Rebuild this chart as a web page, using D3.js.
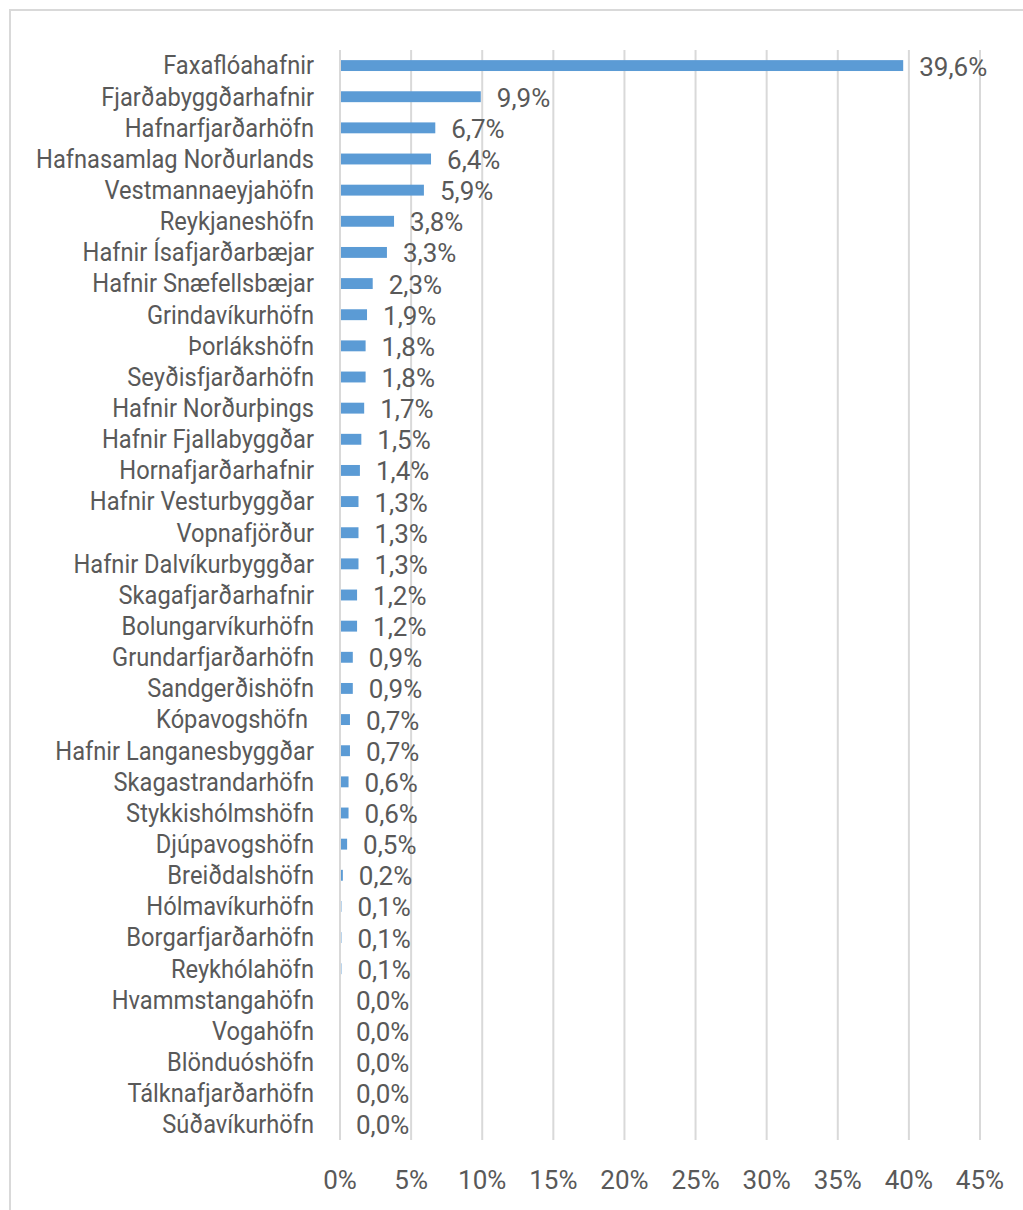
<!DOCTYPE html>
<html>
<head>
<meta charset="utf-8">
<script src="https://d3js.org/d3.v7.min.js"></script>
<style>
  body { margin: 0; background: #fff; }
  text { font-family: "Roboto", "Open Sans", sans-serif; fill: #595959; }
</style>
</head>
<body>
<div id="chart"></div>
<script>
// harbours, ordered as in the chart (top to bottom)
var harbours = ["Faxaflóahafnir", "Fjarðabyggðarhafnir", "Hafnarfjarðarhöfn", "Hafnasamlag Norðurlands",
  "Vestmannaeyjahöfn", "Reykjaneshöfn", "Hafnir Ísafjarðarbæjar", "Hafnir Snæfellsbæjar",
  "Grindavíkurhöfn", "Þorlákshöfn", "Seyðisfjarðarhöfn", "Hafnir Norðurþings",
  "Hafnir Fjallabyggðar", "Hornafjarðarhafnir", "Hafnir Vesturbyggðar", "Vopnafjörður",
  "Hafnir Dalvíkurbyggðar", "Skagafjarðarhafnir", "Bolungarvíkurhöfn", "Grundarfjarðarhöfn",
  "Sandgerðishöfn", "Kópavogshöfn ", "Hafnir Langanesbyggðar", "Skagastrandarhöfn",
  "Stykkishólmshöfn", "Djúpavogshöfn", "Breiðdalshöfn", "Hólmavíkurhöfn",
  "Borgarfjarðarhöfn", "Reykhólahöfn", "Hvammstangahöfn", "Vogahöfn",
  "Blönduóshöfn", "Tálknafjarðarhöfn", "Súðavíkurhöfn"];

// share (%)
var shares = [39.6, 9.9, 6.7, 6.4, 5.9, 3.8, 3.3, 2.3, 1.9, 1.8, 1.8, 1.7, 1.5, 1.4, 1.3, 1.3,
  1.3, 1.2, 1.2, 0.9, 0.9, 0.7, 0.7, 0.6, 0.6, 0.5, 0.2, 0.1, 0.1, 0.1, 0.0, 0.0, 0.0, 0.0, 0.0];

var ticks = [0, 5, 10, 15, 20, 25, 30, 35, 40, 45];

var data = harbours.map(function(h, i) { return {name: h, value: shares[i]}; });

var W = 1023, H = 1210;
var svg = d3.select("#chart").append("svg")
  .attr("width", W)
  .attr("height", H);

// chart area border
svg.append("rect")
  .attr("x", 10).attr("y", 10)
  .attr("width", W + 20).attr("height", H + 20)
  .attr("fill", "none")
  .attr("stroke", "#d9d9d9")
  .attr("stroke-width", 2);

var x = d3.scaleLinear().domain([0, 45]).range([340, 980]);
var y = d3.scaleBand()
  .domain(harbours)
  .range([50, 1140])
  .paddingInner(0.65)
  .paddingOuter(0.325);

// gridlines
svg.append("g")
  .selectAll("line")
  .data(ticks)
  .enter().append("line")
    .attr("x1", function(d) { return x(d); })
    .attr("x2", function(d) { return x(d); })
    .attr("y1", 50)
    .attr("y2", 1140)
    .attr("stroke", "#d9d9d9")
    .attr("stroke-width", 2);

// x tick labels
svg.append("g")
  .selectAll("text")
  .data(ticks)
  .enter().append("text")
    .attr("x", function(d) { return x(d); })
    .attr("y", 1180)
    .attr("text-anchor", "middle")
    .attr("dominant-baseline", "central")
    .style("font-size", "26px")
    .text(function(d) { return d + "%"; });

// bars
svg.append("g")
  .selectAll("rect")
  .data(data)
  .enter().append("rect")
    .attr("x", x(0) + 1)
    .attr("y", function(d) { return y(d.name); })
    .attr("width", function(d) { return Math.max(0, x(d.value) - x(0) - 1); })
    .attr("height", y.bandwidth())
    .attr("fill", "#5b9bd5");

// category labels (squeezed a little to look like the narrow original font)
svg.append("g")
  .selectAll("text")
  .data(data)
  .enter().append("text")
    .attr("transform", function(d) {
      return "translate(314," + (y(d.name) + y.bandwidth() / 2) + ") scale(0.91,1)";
    })
    .attr("text-anchor", "end")
    .attr("dominant-baseline", "central")
    .style("font-size", "26px")
    .style("white-space", "pre")
    .text(function(d) { return d.name; });

// value labels
var fmt = function(v) { return v.toFixed(1).replace(".", ",") + "%"; };
svg.append("g")
  .selectAll("text")
  .data(data)
  .enter().append("text")
    .attr("x", function(d) { return x(d.value) + 16; })
    .attr("y", function(d) { return y(d.name) + y.bandwidth() / 2 + 1; })
    .attr("dominant-baseline", "central")
    .style("font-size", "26px")
    .text(function(d) { return fmt(d.value); });
</script>
</body>
</html>
